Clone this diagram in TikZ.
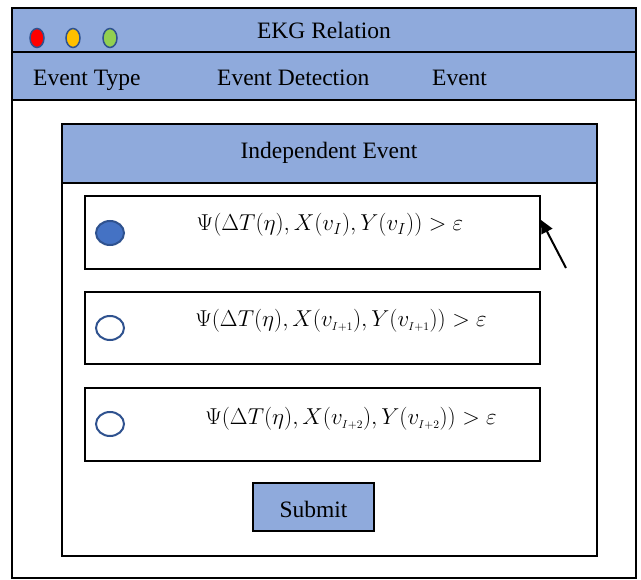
\documentclass[tikz,border=0pt]{standalone}
\usepackage{fix-cm}
\usepackage{fontspec}
\setmainfont{Liberation Serif}
\usetikzlibrary{arrows.meta,shapes.geometric}
\definecolor{barblue}{HTML}{8FAADC}
\definecolor{dotblue}{HTML}{4472C4}
\definecolor{rimblue}{HTML}{2F528F}
\definecolor{dotred}{HTML}{FF0000}
\definecolor{dotyellow}{HTML}{FFC000}
\definecolor{dotgreen}{HTML}{92D050}
\newcommand{\tinysub}[1]{{\scriptscriptstyle #1}}
\tikzset{
  frame/.style={draw=black, line width=2pt},
  bar/.style={frame, fill=barblue},
  txt/.style={font=\fontsize{23.5}{27}\selectfont, inner sep=0pt},
  formula/.style={font=\fontsize{23}{27}\selectfont, inner sep=0pt},
  dot/.style={draw=rimblue, line width=1.5pt, ellipse, minimum width=14pt, minimum height=19pt, inner sep=0pt},
  radio/.style={draw=rimblue, line width=2pt, ellipse, minimum width=28pt, minimum height=24pt, inner sep=0pt},
}
\begin{document}
\begin{tikzpicture}[x=1pt,y=-1pt]
\useasboundingbox (0,0) rectangle (641,580);
% outer window
\draw[frame, fill=white] (12,8) rectangle (636,578);
\draw[bar] (12,8) rectangle (636,52);
\draw[bar] (12,52) rectangle (636,100);
\node[dot, fill=dotred] (d1) at (37,38) {};
\node[dot, fill=dotyellow] (d2) at (73,38) {};
\node[dot, fill=dotgreen] (d3) at (110,38) {};
\node[txt, anchor=base] (title) at (324,39) {EKG Relation};
\node[txt, anchor=base west] (m1) at (33,86) {Event Type};
\node[txt, anchor=base west] (m2) at (217,86) {Event Detection};
\node[txt, anchor=base west] (m3) at (432,86) {Event};
% inner panel
\draw[frame] (62,124) rectangle (597,556);
\draw[bar] (62,124) rectangle (597,183);
\node[txt, anchor=base] (panel) at (329,159) {Independent Event};
% options
\draw[frame] (85,196) rectangle (540,269);
\draw[frame] (85,292) rectangle (540,364);
\draw[frame] (85,388) rectangle (540,461);
\node[radio, fill=dotblue] (r1) at (110,233) {};
\node[radio, fill=white] (r2) at (110,328) {};
\node[radio, fill=white] (r3) at (110,424) {};
\node[formula, anchor=base] (f1) at (330,231) {$\Psi(\Delta T(\eta),X(v_I),Y(v_I))>\varepsilon$};
\node[formula, anchor=base] (f2) at (341,327) {$\Psi(\Delta T(\eta),X(v_{\tinysub{I+1}}),Y(v_{\tinysub{I+1}}))>\varepsilon$};
\node[formula, anchor=base] (f3) at (351,425) {$\Psi(\Delta T(\eta),X(v_{\tinysub{I+2}}),Y(v_{\tinysub{I+2}}))>\varepsilon$};
% cursor arrow
\coordinate (ptail) at (566,268);
\coordinate (ptip) at (541,220);
\draw[line width=2pt, -{Triangle[length=13pt,width=12pt]}] (ptail) -- (ptip);
% submit
\node[bar, minimum width=121pt, minimum height=48pt, inner sep=0pt] (submit) at (313.5,507) {};
\node[txt, anchor=base] (submittxt) at (submit.center |- 0,518) {Submit};
\end{tikzpicture}
\end{document}
